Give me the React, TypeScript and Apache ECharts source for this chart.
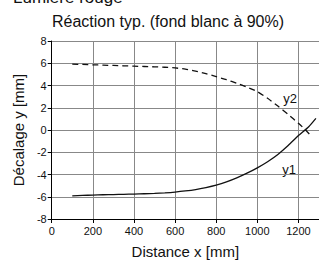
import React, { useEffect, useRef } from "react";
import * as echarts from "echarts";

const xTicks = [0, 200, 400, 600, 800, 1000, 1200];
const yTicks = [-8, -6, -4, -2, 0, 2, 4, 6, 8];

const y1X = [100, 150, 200, 250, 300, 350, 400, 450, 500, 550, 600, 650, 700, 750, 800, 850, 900, 950, 1000, 1050, 1100, 1150, 1200, 1250, 1285];
const y1Values = [-5.92, -5.88, -5.85, -5.82, -5.8, -5.78, -5.76, -5.73, -5.7, -5.65, -5.58, -5.48, -5.35, -5.17, -4.95, -4.66, -4.3, -3.88, -3.4, -2.85, -2.2, -1.4, -0.5, 0.3, 1.05];

const y2X = [100, 150, 200, 250, 300, 350, 400, 450, 500, 550, 600, 650, 700, 750, 800, 850, 900, 950, 1000, 1050, 1100, 1150, 1200, 1235, 1265];
const y2Values = [5.92, 5.89, 5.86, 5.83, 5.8, 5.77, 5.74, 5.71, 5.68, 5.64, 5.58, 5.47, 5.3, 5.07, 4.8, 4.52, 4.2, 3.85, 3.45, 2.85, 2.15, 1.4, 0.6, 0.0, -0.6];

const title = "Réaction typ. (fond blanc à 90%)";
const topText = "Lumière rouge";
const xName = "Distance x [mm]";
const yName = "Décalage y [mm]";

export default function App() {
  const ref = useRef<HTMLDivElement>(null);
  useEffect(() => {
    if (!ref.current) return;
    const chart = echarts.init(ref.current, null, { renderer: "svg" });
    const font = "Arial, 'Liberation Sans', sans-serif";
    chart.setOption({
      animation: false,
      backgroundColor: "#fff",
      textStyle: { fontFamily: font },
      grid: { left: 51.7, top: 41, width: 270.4, height: 184.7 },
      xAxis: {
        type: "value",
        min: 0,
        max: 1300,
        interval: 200,
        name: xName,
        nameLocation: "middle",
        nameGap: 25,
        nameTextStyle: { fontSize: 15, color: "#111", fontFamily: font },
        axisLine: { show: true, onZero: false, lineStyle: { color: "#000", width: 1 } },
        axisTick: { show: true, length: 4, lineStyle: { color: "#000" } },
        axisLabel: {
          fontSize: 11,
          color: "#111",
          margin: 6,
          showMaxLabel: false,
          fontFamily: font,
          formatter: (v: number) => (xTicks.indexOf(v) >= 0 ? String(v) : ""),
        },
        splitLine: { show: true, lineStyle: { color: "#888", width: 1 } },
      },
      yAxis: {
        type: "value",
        min: -8,
        max: 8,
        interval: 2,
        name: yName,
        nameLocation: "middle",
        nameGap: 20,
        nameTextStyle: { fontSize: 15, color: "#111", fontFamily: font },
        axisLine: { show: true, onZero: false, lineStyle: { color: "#000", width: 1 } },
        axisTick: { show: true, length: 4, lineStyle: { color: "#000" } },
        axisLabel: {
          fontSize: 11,
          color: "#111",
          margin: 5,
          fontFamily: font,
          formatter: (v: number) => (yTicks.indexOf(v) >= 0 ? String(v) : ""),
        },
        splitLine: { show: true, lineStyle: { color: "#888", width: 1 } },
      },
      graphic: [
        {
          type: "text",
          x: 13,
          y: 6,
          style: { text: topText, fontSize: 17, fontFamily: font, fill: "#111", textVerticalAlign: "bottom" },
        },
        {
          type: "text",
          x: 168,
          y: 21,
          style: { text: title, fontSize: 16, fontFamily: font, fill: "#111", textAlign: "center", textVerticalAlign: "middle" },
        },
        {
          type: "text",
          x: 290,
          y: 98,
          style: { text: "y2", fontSize: 13, fontFamily: font, fill: "#111", textAlign: "center", textVerticalAlign: "middle" },
        },
        {
          type: "text",
          x: 289,
          y: 169,
          style: { text: "y1", fontSize: 13, fontFamily: font, fill: "#111", textAlign: "center", textVerticalAlign: "middle" },
        },
      ],
      series: [
        {
          name: "y1",
          type: "line",
          data: y1X.map((x, i) => [x, y1Values[i]]),
          smooth: 0.2,
          showSymbol: false,
          lineStyle: { color: "#111", width: 1.3 },
        },
        {
          name: "y2",
          type: "line",
          data: y2X.map((x, i) => [x, y2Values[i]]),
          smooth: 0.2,
          showSymbol: false,
          lineStyle: { color: "#111", width: 1.3, type: [6, 4] },
        },
      ],
    });
    return () => chart.dispose();
  }, []);
  return (
    <div style={{ position: "fixed", left: 0, top: 0, width: 319, height: 264, overflow: "hidden", background: "#fff" }}>
      <div ref={ref} style={{ width: 319, height: 264 }} />
    </div>
  );
}
